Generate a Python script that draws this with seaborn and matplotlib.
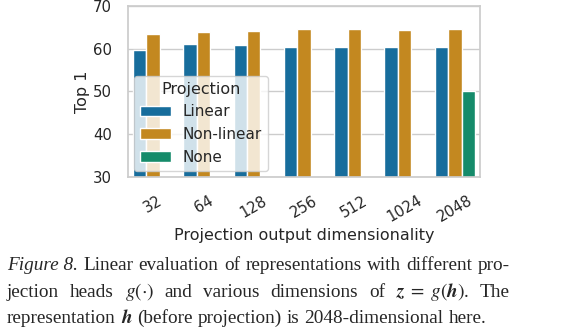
import matplotlib
matplotlib.use("Agg")
import matplotlib.pyplot as plt
import seaborn as sns
import pandas as pd

dims = ["32", "64", "128", "256", "512", "1024", "2048"]
linear = [59.8, 61.2, 60.9, 60.5, 60.5, 60.3, 60.5]
nonlinear = [63.4, 64.0, 64.1, 64.7, 64.6, 64.5, 64.6]
none_dims = ["2048"]
none_vals = [50.2]
projections = ["Linear", "Non-linear", "None"]

rows = []
for d, v in zip(dims, linear):
    rows.append({"dim": d, "top1": v, "Projection": "Linear"})
for d, v in zip(dims, nonlinear):
    rows.append({"dim": d, "top1": v, "Projection": "Non-linear"})
for d, v in zip(none_dims, none_vals):
    rows.append({"dim": d, "top1": v, "Projection": "None"})
df = pd.DataFrame(rows)

sns.set_theme(style="whitegrid")
plt.rcParams["font.family"] = ["DejaVu Sans"]
plt.rcParams["mathtext.fontset"] = "stix"

W, H = 569, 335
fig = plt.figure(figsize=(W / 100, H / 100), dpi=100)
ax = fig.add_axes([128 / W, 1 - 177 / H, 352 / W, 171 / H])
sns.barplot(data=df, x="dim", y="top1", hue="Projection", order=dims,
            hue_order=projections, palette="colorblind", ax=ax,
            errorbar=None, saturation=0.75)
ax.set_ylim(30, 70)
ax.set_yticks([30, 40, 50, 60, 70])
ax.tick_params(axis="both", labelsize=10.7, pad=5.5)
plt.setp(ax.get_xticklabels(), rotation=30)
ax.set_xlabel("Projection output dimensionality", fontsize=11.5, labelpad=2)
ax.set_ylabel("Top 1", fontsize=11.5, labelpad=2.5)
leg = ax.legend(title="Projection", loc="lower left", fontsize=11,
                title_fontsize=11.5, framealpha=0.8, borderaxespad=0.4)

# Caption set as justified lines of words
renderer = fig.canvas.get_renderer()
cap_style = dict(fontsize=13.9, family="Liberation Serif", va="baseline", ha="left")
x_left, x_right = 7, 510
caption = [
    (270, [("Figure 8.", "italic"), "Linear", "evaluation", "of", "representations",
           "with", "different", "pro-"], True),
    (297, ["jection", "heads", r"$g(\cdot)$", "and", "various", "dimensions", "of",
           r"$\boldsymbol{z}\;=\;g(\boldsymbol{h})$.", "The"], True),
    (323, ["representation", r"$\boldsymbol{h}$", "(before", "projection)", "is",
           "2048-dimensional", "here."], False),
]
probe = fig.text(0, 0, "a a", **cap_style)
w_sp = probe.get_window_extent(renderer).width
probe.set_text("aa")
w_sp -= probe.get_window_extent(renderer).width
probe.remove()

for y_px, words, justify in caption:
    items = []
    for w in words:
        style = "normal"
        if isinstance(w, tuple):
            w, style = w
        t = fig.text(0, 1 - y_px / H, w, style=style, **cap_style)
        items.append((t, t.get_window_extent(renderer).width))
    total = sum(wd for _, wd in items)
    gap = (x_right - x_left - total) / (len(items) - 1) if justify else w_sp
    x = x_left
    for t, wd in items:
        t.set_x(x / W)
        x += wd + gap

fig.savefig("out.png", dpi=100)
